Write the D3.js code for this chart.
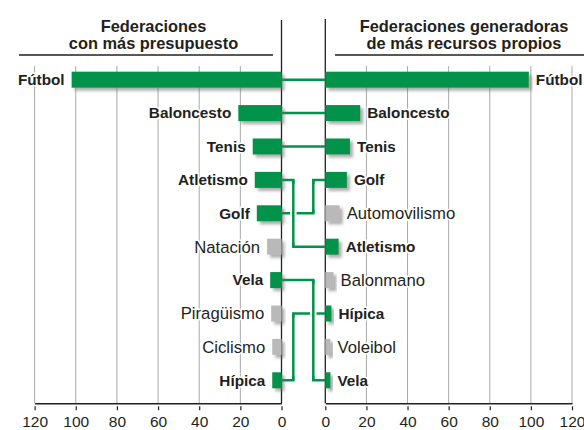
<!DOCTYPE html>
<html>
<head>
<meta charset="utf-8">
<script src="https://cdn.jsdelivr.net/npm/d3@7/dist/d3.min.js"></script>
<style>
  html, body { margin: 0; padding: 0; background: #fff; }
  svg { display: block; font-family: "Liberation Sans", Arial, sans-serif; }
</style>
</head>
<body>
<svg id="chart" width="584" height="430"></svg>
<script>
// ---- data ----
const leftCategories = ["Fútbol", "Baloncesto", "Tenis", "Atletismo", "Golf", "Natación", "Vela", "Piragüismo", "Ciclismo", "Hípica"];
const leftValues = [102, 21, 14, 13, 12, 7, 5.5, 5, 4.5, 4.5];
const rightCategories = ["Fútbol", "Baloncesto", "Tenis", "Golf", "Automovilismo", "Atletismo", "Balonmano", "Hípica", "Voleibol", "Vela"];
const rightValues = [99, 17, 12, 10.5, 7, 6.5, 4, 3, 2.5, 2.5];
const tickValues = [0, 20, 40, 60, 80, 100, 120];
const leftTitle = ["Federaciones", "con más presupuesto"];
const rightTitle = ["Federaciones generadoras", "de más recursos propios"];

// ---- styles ----
const GREEN = "#00934a", GRAY = "#b9b9b9", INK = "#231f20", GRID = "#a9a9a9";

const svg = d3.select("#chart");
const defs = svg.append("defs");
const f = defs.append("filter").attr("id", "shadow").attr("x", "-20%").attr("y", "-40%").attr("width", "160%").attr("height", "200%");
f.append("feDropShadow").attr("dx", 3).attr("dy", 3).attr("stdDeviation", 1.4)
  .attr("flood-color", "#6d6d6d").attr("flood-opacity", 0.55);

const xL = d3.scaleLinear().domain([0, 120]).range([281.5, 34.6]);
const xR = d3.scaleLinear().domain([0, 120]).range([325.3, 572]);
const yL = d3.scaleBand().domain(leftCategories).range([63, 397]).paddingInner(0.52).paddingOuter(0.26);
const yR = d3.scaleBand().domain(rightCategories).range([63, 397]).paddingInner(0.52).paddingOuter(0.26);
const axisY = 403.3, gridTop = 66;

const inBoth = new Set(leftCategories.filter(c => rightCategories.includes(c)));
const leftData = leftCategories.map((c, i) => ({ name: c, value: leftValues[i] }));
const rightData = rightCategories.map((c, i) => ({ name: c, value: rightValues[i] }));

// ---- gridlines ----
const grid = svg.append("g");
grid.selectAll(".gl").data(tickValues.filter(t => t > 0)).join("line")
  .attr("x1", d => xL(d)).attr("x2", d => xL(d)).attr("y1", gridTop).attr("y2", axisY)
  .attr("stroke", GRID).attr("stroke-width", 1);
grid.selectAll(".gr").data(tickValues.filter(t => t > 0)).join("line")
  .attr("x1", d => xR(d)).attr("x2", d => xR(d)).attr("y1", gridTop).attr("y2", axisY)
  .attr("stroke", GRID).attr("stroke-width", 1);

// ---- zero lines ----
svg.append("line").attr("x1", xL(0)).attr("x2", xL(0)).attr("y1", 20).attr("y2", axisY)
  .attr("stroke", INK).attr("stroke-width", 1.3);
svg.append("line").attr("x1", xR(0)).attr("x2", xR(0)).attr("y1", 19).attr("y2", axisY)
  .attr("stroke", INK).attr("stroke-width", 1.3);

// ---- titles ----
function title(lines, cx) {
  const t = svg.append("text").attr("text-anchor", "middle").attr("fill", INK)
    .attr("font-weight", "bold").attr("font-size", 16.4);
  lines.forEach((l, i) => t.append("tspan").attr("x", cx).attr("y", 31.6 + i * 17).text(l));
}
title(leftTitle, 153.5);
title(rightTitle, 464);
svg.append("line").attr("x1", 19).attr("x2", 273).attr("y1", 55).attr("y2", 55).attr("stroke", INK).attr("stroke-width", 1.4);
svg.append("line").attr("x1", 335).attr("x2", 584).attr("y1", 55).attr("y2", 55).attr("stroke", INK).attr("stroke-width", 1.4);

// ---- connectors ----
const gapL = xL(0), gapR = xR(0);
const laneLeft = gapL + 11.8, laneRight = gapR - 12;
const laneOf = { "Atletismo": laneLeft, "Golf": laneRight, "Vela": laneRight, "Hípica": laneLeft };
const conns = leftCategories.filter(c => inBoth.has(c)).map(c => {
  const y1 = yL(c) + yL.bandwidth() / 2, y2 = yR(c) + yR.bandwidth() / 2;
  return { name: c, y1, y2, bx: laneOf[c] || (gapL + gapR) / 2 };
});
const cg = svg.append("g").attr("fill", "none");
cg.selectAll("path.c").data(conns).join("path")
  .attr("d", d => Math.abs(d.y1 - d.y2) < 0.5
    ? `M${gapL},${d.y1}H${gapR}`
    : `M${gapL},${d.y1}H${d.bx}V${d.y2}H${gapR}`)
  .attr("stroke", GREEN).attr("stroke-width", 2.5);
const bent = conns.filter(d => Math.abs(d.y1 - d.y2) >= 0.5);
cg.selectAll("path.h").data(bent).join("path")
  .attr("d", d => `M${d.bx},${Math.min(d.y1, d.y2) + 4}V${Math.max(d.y1, d.y2) - 4}`)
  .attr("stroke", "#fff").attr("stroke-width", 6.5);
cg.selectAll("path.v").data(bent).join("path")
  .attr("d", d => `M${d.bx},${d.y1}V${d.y2}`)
  .attr("stroke", GREEN).attr("stroke-width", 2.5);

// ---- bars ----
svg.append("g").selectAll("rect").data(leftData).join("rect")
  .attr("x", d => xL(d.value)).attr("width", d => xL(0) - xL(d.value))
  .attr("y", d => yL(d.name)).attr("height", yL.bandwidth())
  .attr("fill", d => inBoth.has(d.name) ? GREEN : GRAY).attr("filter", "url(#shadow)");
svg.append("g").selectAll("rect").data(rightData).join("rect")
  .attr("x", xR(0)).attr("width", d => xR(d.value) - xR(0))
  .attr("y", d => yR(d.name)).attr("height", yR.bandwidth())
  .attr("fill", d => inBoth.has(d.name) ? GREEN : GRAY).attr("filter", "url(#shadow)");

// ---- labels ----
function labelStyle(sel) {
  sel.attr("fill", INK)
    .attr("font-weight", d => inBoth.has(d.name) ? "bold" : "normal")
    .attr("font-size", d => inBoth.has(d.name) ? 15.3 : 16.7)
    .attr("dy", "0.35em")
    .attr("stroke", "#fff").attr("stroke-width", 3).attr("paint-order", "stroke")
    .text(d => d.name);
}
svg.append("g").selectAll("text").data(leftData).join("text")
  .attr("x", d => xL(d.value) - 7).attr("y", d => yL(d.name) + yL.bandwidth() / 2)
  .attr("text-anchor", "end").call(labelStyle);
svg.append("g").selectAll("text").data(rightData).join("text")
  .attr("x", d => xR(d.value) + 7).attr("y", d => yR(d.name) + yR.bandwidth() / 2)
  .attr("text-anchor", "start").call(labelStyle);

// ---- axes ----
function styleAxis(g) {
  g.select(".domain").attr("stroke", INK).attr("stroke-width", 1.4);
  g.selectAll(".tick line").attr("stroke", INK).attr("stroke-width", 1.2).attr("y1", 3);
  g.selectAll(".tick text").attr("fill", INK).attr("font-size", 15.5)
    .attr("font-family", "'Liberation Sans', Arial, sans-serif");
}
svg.append("g").attr("transform", `translate(0,${axisY})`)
  .call(d3.axisBottom(xL).tickValues(tickValues).tickSize(7).tickSizeOuter(0).tickPadding(6))
  .call(styleAxis);
svg.append("g").attr("transform", `translate(0,${axisY})`)
  .call(d3.axisBottom(xR).tickValues(tickValues).tickSize(7).tickSizeOuter(0).tickPadding(6))
  .call(styleAxis);
</script>
</body>
</html>
